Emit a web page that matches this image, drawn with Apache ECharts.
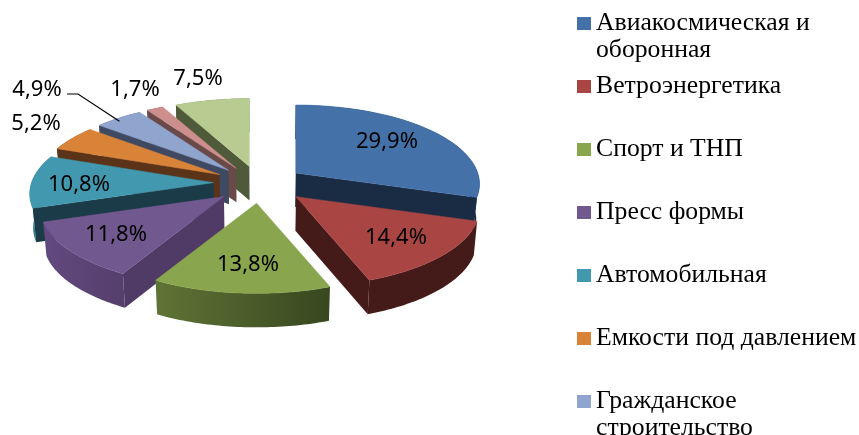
<!DOCTYPE html>
<html><head><meta charset="utf-8">
<style>html,body{margin:0;padding:0;background:#fff}#c{width:859px;height:435px}</style>
<script src="https://cdn.jsdelivr.net/npm/echarts@6/dist/echarts.min.js"></script>
</head><body><div id="c"></div>
<script>
const categories = ['Авиакосмическая и\nоборонная','Ветроэнергетика','Спорт и ТНП','Пресс формы','Автомобильная','Емкости под давлением','Гражданское\nстроительство','Прочее 1','Прочее 2'];
const values = [29.9,14.4,13.8,11.8,10.8,5.2,4.9,1.7,7.5];
const legendNames = categories.slice(0,7);
const topColors = ['#4571a9','#a94644','#89a54e','#71588f','#4198af','#d88338','#8fa5ce','#cc8f8d','#b8cc92'];
const wallFrom = ['#1a2c44','#451b19','#5f7436','#62497f','#2e7a92','#5a3318','#3f4a62','#6a4a49','#505c3a'];
const wallTo = ['#1a2c44','#451b19','#38471f','#553f6c','#2e7a92','#5a3318','#3f4a62','#6a4a49','#505c3a'];
const radialWall = ['#1a2c44','#451b19','#3c4a20','#503b66','#1a3b47','#5a3318','#3f4a62','#6a4a49','#4f5a3a'];
const labelPos = [[387,142],[396,238],[248,265],[116,235],[79,185],[36,124],[37,90],[135,90],[198,79]];
const apexNudge = [[0,0],[4,-1],[1,-1],[0,0],[0,0],[0,0],[0,0],[0,0],[1,0]];
const drawOrder = [8,7,6,5,4,0,3,1,2];
const CX=259, CY=183, RX=182, RY=77.5, K=0.14, EXPLODE=0.25, DEPTH=34, SHRINK=0.985, LEADER=6;

const total = values.reduce((a,b)=>a+b,0);
const starts = []; let acc=0;
values.forEach(v=>{starts.push(acc/total*Math.PI*2); acc+=v;});

function geometry(i){
  const a0=starts[i], a1=a0+values[i]/total*Math.PI*2, m=(a0+a1)/2;
  const ex=Math.sin(m)*EXPLODE, ey=-Math.cos(m)*EXPLODE;
  const apex=[CX+RX*ex+apexNudge[i][0], CY+(ey<0?RY*ey*0.877:RY*ey*1.1)+apexNudge[i][1]];
  const rim=t=>{const X=Math.sin(t),Y=-Math.cos(t),w=1-K*Y;return [apex[0]+RX*X/w,apex[1]+RY*Y/w];};
  const arc=[]; const n=48;
  for(let j=0;j<=n;j++)arc.push(rim(a0+(a1-a0)*j/n));
  return {apex,arc,mid:rim(m),a0,a1};
}
const down=p=>[CX+(p[0]-CX)*SHRINK,p[1]+DEPTH];
function renderSlice(i){
  return function(){
    const g=geometry(i), a=g.apex, arc=g.arc, first=arc[0], last=arc[arc.length-1];
    const wallFill=new echarts.graphic.LinearGradient(0,0,1,0,[{offset:0,color:wallFrom[i]},{offset:1,color:wallTo[i]}]);
    const children=[
      {type:'polygon',shape:{points:arc.concat(arc.slice().reverse().map(down))},style:{fill:wallFill}}
    ];
    if(Math.sin(g.a0)<0) children.push({type:'polygon',shape:{points:[a,first,down(first),down(a)]},style:{fill:radialWall[i]}});
    if(Math.sin(g.a1)>0) children.push({type:'polygon',shape:{points:[a,last,down(last),down(a)]},style:{fill:radialWall[i]}});
    children.push({type:'polygon',shape:{points:[a].concat(arc)},style:{fill:topColors[i],stroke:topColors[i],lineWidth:0.5}});
    const lp=labelPos[i];
    if(i===LEADER){
      children.push({type:'polyline',shape:{points:[[lp[0]+30,lp[1]+4],[lp[0]+41,lp[1]+4],[g.mid[0]+1,g.mid[1]+3]]},style:{fill:null,stroke:'#000',lineWidth:1.2}});
    }
    children.push({type:'text',z2:100,style:{x:lp[0],y:lp[1],text:values[i].toFixed(1).replace('.',',')+'%',align:'center',verticalAlign:'middle',font:'22px "Noto Sans"',fill:'#000'}});
    return {type:'group',children};
  };
}
const series=drawOrder.map((i,k)=>({
  type:'custom',name:categories[i],coordinateSystem:'none',z:k+2,silent:true,
  itemStyle:{color:topColors[i]},
  data:[[values[i]]],renderItem:renderSlice(i)
}));
const chart=echarts.init(document.getElementById('c'),null,{renderer:'canvas'});
chart.setOption({
  animation:false,backgroundColor:'#fff',
  legend:{
    orient:'vertical',left:577,top:-17,height:700,padding:0,itemGap:-18,
    data:legendNames,icon:'rect',itemWidth:14,itemHeight:13,selectedMode:false,
    formatter:n=>n.indexOf('\n')>=0?'\n'+n:'\n'+n+'\n',
    textStyle:{fontFamily:'Liberation Serif',fontSize:25.7,color:'#000',lineHeight:27}
  },
  series
});
</script></body></html>
